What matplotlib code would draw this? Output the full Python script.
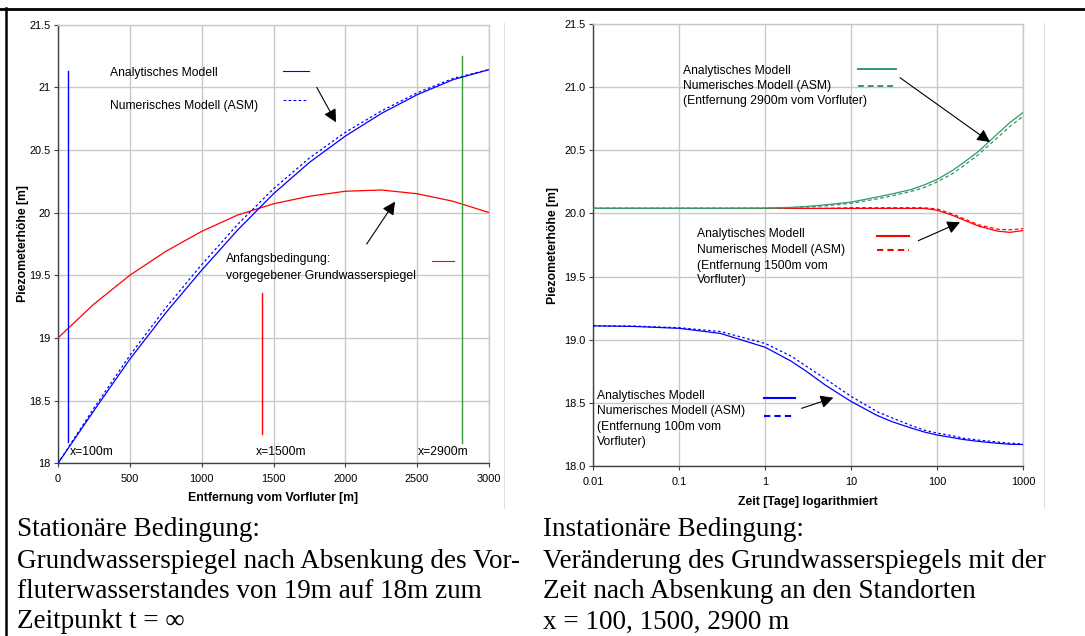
import matplotlib
matplotlib.use('Agg')
import matplotlib.pyplot as plt
from matplotlib.lines import Line2D
from matplotlib.patches import FancyArrowPatch
from matplotlib.ticker import NullLocator

# ---------------- data ----------------
# left chart: steady state (distance from river [m])
x_dist = [0, 250, 500, 750, 1000, 1250, 1500, 1750, 2000, 2250, 2500, 2750, 3000]
h_stat_analyt = [18.0, 18.42, 18.83, 19.2, 19.54, 19.86, 20.15, 20.40, 20.61, 20.79, 20.94, 21.06, 21.14]
h_stat_num = [18.0, 18.44, 18.86, 19.24, 19.585, 19.905, 20.19, 20.435, 20.64, 20.81, 20.955, 21.07, 21.14]
h_initial = [19.0, 19.27, 19.5, 19.69, 19.85, 19.98, 20.07, 20.13, 20.17, 20.18, 20.15, 20.09, 20.0]
marker_x = [67, 1418, 2815]
marker_ybot = [18.17, 18.23, 18.165]
marker_ytop = [21.13, 19.36, 21.25]
marker_labels = ['x=100m', 'x=1500m', 'x=2900m']

# right chart: transient (time [days])
t_days = [0.01, 0.03, 0.1, 0.3, 1, 2, 3, 5, 10, 20, 30, 50, 70, 100, 150, 200, 300, 500, 700, 1000]
h100_analyt = [19.11, 19.105, 19.09, 19.05, 18.94, 18.83, 18.75, 18.64, 18.51, 18.40, 18.35, 18.30,
               18.27, 18.245, 18.225, 18.21, 18.195, 18.18, 18.172, 18.17]
h100_num = [19.11, 19.108, 19.095, 19.065, 18.97, 18.87, 18.79, 18.69, 18.55, 18.43, 18.38, 18.32,
            18.285, 18.26, 18.24, 18.22, 18.205, 18.19, 18.18, 18.175]
h1500_analyt = [20.04, 20.04, 20.04, 20.04, 20.04, 20.04, 20.04, 20.04, 20.04, 20.04, 20.04, 20.04,
                20.04, 20.025, 19.985, 19.95, 19.90, 19.86, 19.85, 19.865]
h1500_num = [20.04, 20.04, 20.04, 20.04, 20.04, 20.04, 20.04, 20.04, 20.045, 20.045, 20.045, 20.045,
             20.045, 20.035, 19.995, 19.96, 19.91, 19.875, 19.87, 19.88]
h2900_analyt = [20.04, 20.04, 20.04, 20.04, 20.042, 20.048, 20.055, 20.068, 20.09, 20.13, 20.155, 20.19,
                20.225, 20.27, 20.34, 20.40, 20.49, 20.63, 20.72, 20.80]
h2900_num = [20.04, 20.04, 20.04, 20.04, 20.04, 20.045, 20.05, 20.06, 20.08, 20.115, 20.14, 20.175,
             20.205, 20.25, 20.315, 20.375, 20.465, 20.60, 20.69, 20.77]

left_xticks = [0, 500, 1000, 1500, 2000, 2500, 3000]
y_ticks = [18, 18.5, 19, 19.5, 20, 20.5, 21, 21.5]
right_xticks = [0.01, 0.1, 1, 10, 100, 1000]
right_xticklabels = ['0.01', '0.1', '1', '10', '100', '1000']

BLUE = '#0000ff'
RED = '#ff0000'
GREEN_L = '#3a9a3a'
GREEN = '#339966'
GRID = '#c8c8c8'

plt.rcParams['font.family'] = ['Liberation Sans', 'DejaVu Sans']

W, H = 1085, 636
fig = plt.figure(figsize=(W / 100, H / 100), dpi=100)
fig.patch.set_facecolor('white')


def fx(x):
    return x / W


def fy(y):
    return 1 - y / H


def add_axes(x0, y0, x1, y1):
    return fig.add_axes([fx(x0), fy(y1), (x1 - x0) / W, (y1 - y0) / H])


axL = add_axes(58, 24.5, 489, 463.3)
axR = add_axes(593.3, 24, 1023.3, 466)

for ax in (axL, axR):
    ax.set_facecolor('white')
    ax.grid(True, color=GRID, lw=1.0)
    ax.set_axisbelow(True)
    for s in ['top', 'right']:
        ax.spines[s].set_color(GRID)
        ax.spines[s].set_linewidth(1.0)
    for s in ['left', 'bottom']:
        ax.spines[s].set_color('#404040')
        ax.spines[s].set_linewidth(1.0)
    ax.tick_params(direction='out', length=3, width=0.8, color='#404040',
                   labelsize=7.9, pad=2.5, labelcolor='black')
    ax.tick_params(axis='x', pad=5)
    ax.set_ylim(18, 21.5)
    ax.set_yticks(y_ticks)

# ---- left chart ----
axL.set_xlim(0, 3000)
axL.set_xticks(left_xticks)
axL.set_yticklabels(['%g' % v for v in y_ticks])
axL.plot(x_dist, h_initial, color=RED, lw=0.9, zorder=3)
axL.plot(x_dist, h_stat_num, color=BLUE, lw=0.9, ls=(0, (2, 2)), zorder=3)
axL.plot(x_dist, h_stat_analyt, color=BLUE, lw=0.9, zorder=4)
for xm, yb, yt, c in zip(marker_x, marker_ybot, marker_ytop, [BLUE, RED, GREEN_L]):
    axL.plot([xm, xm], [yb, yt], color=c, lw=1.0, zorder=3)

# ---- right chart ----
axR.set_xscale('log')
axR.set_xlim(0.01, 1000)
axR.set_xticks(right_xticks)
axR.set_xticklabels(right_xticklabels)
axR.xaxis.set_minor_locator(NullLocator())
axR.set_yticklabels(['%.1f' % v for v in y_ticks])
axR.plot(t_days, h1500_num, color=RED, lw=0.9, ls=(0, (3, 2)), zorder=3)
axR.plot(t_days, h1500_analyt, color=RED, lw=0.9, zorder=3)
axR.plot(t_days, h2900_num, color=GREEN, lw=0.9, ls=(0, (3, 2)), zorder=4)
axR.plot(t_days, h2900_analyt, color=GREEN, lw=0.9, zorder=4)
axR.plot(t_days, h100_num, color=BLUE, lw=0.9, ls=(0, (2, 2)), zorder=3)
axR.plot(t_days, h100_analyt, color=BLUE, lw=0.9, zorder=3)


# ---- helpers for annotations ----
def text(x, y, s, size=8.7, **kw):
    kw.setdefault('ha', 'left')
    kw.setdefault('va', 'center')
    return fig.text(fx(x), fy(y), s, fontsize=size, **kw)


def seg(x0, x1, y, color, lw, ls='-'):
    fig.add_artist(Line2D([fx(x0), fx(x1)], [fy(y), fy(y)], transform=fig.transFigure,
                          color=color, lw=lw, ls=ls))


def arrow(x0, y0, x1, y1):
    fig.add_artist(FancyArrowPatch((fx(x0), fy(y0)), (fx(x1), fy(y1)), transform=fig.transFigure,
                                   arrowstyle='-|>,head_length=0.55,head_width=0.28',
                                   mutation_scale=14, color='black', lw=0.8,
                                   shrinkA=0, shrinkB=0))


# axis labels
text(273.5, 498.3, 'Entfernung vom Vorfluter [m]', size=8.8, weight='bold', ha='center')
text(808.3, 501.7, 'Zeit [Tage] logarithmiert', size=8.8, weight='bold', ha='center')
text(23, 244, 'Piezometerhöhe [m]', size=8.8, weight='bold', ha='center', rotation=90)
text(553, 245, 'Piezometerhöhe [m]', size=8.8, weight='bold', ha='center', rotation=90)

# left chart annotations
text(110, 72.7, 'Analytisches Modell')
text(110, 105.7, 'Numerisches Modell (ASM)')
seg(283, 309, 70.7, BLUE, 0.8)
seg(283, 307, 100, BLUE, 0.8, (0, (2.5, 2)))
arrow(316.7, 87.3, 336, 122.3)
text(225.7, 259.3, 'Anfangsbedingung:')
text(225.7, 275.7, 'vorgegebener Grundwasserspiegel')
seg(432, 454, 261, RED, 0.8)
arrow(366.7, 244, 395, 201.7)
for lab, xl in zip(marker_labels, [70, 256, 418]):
    text(xl, 451.7, lab)

# right chart annotations
text(683.3, 70.7, 'Analytisches Modell')
text(683.3, 86, 'Numerisches Modell (ASM)')
text(683.3, 100.7, '(Entfernung 2900m vom Vorfluter)')
seg(857.7, 896, 69.3, GREEN, 1.4)
seg(857.7, 896, 86, GREEN, 1.4, (0, (3, 2)))
arrow(900, 77.7, 990, 142)

text(696.7, 234.3, 'Analytisches Modell')
text(696.7, 250, 'Numerisches Modell (ASM)')
text(696.7, 265.5, '(Entfernung 1500m vom')
text(696.7, 280.5, 'Vorfluter)')
seg(876.7, 909, 235.7, RED, 1.5)
seg(876.7, 909, 250, RED, 1.5, (0, (3, 2)))
arrow(918.3, 240.7, 960, 222.3)

text(597.3, 395.7, 'Analytisches Modell')
text(597.3, 411, 'Numerisches Modell (ASM)')
text(597.3, 426.7, '(Entfernung 100m vom')
text(597.3, 441.5, 'Vorfluter)')
seg(764.3, 795, 397.7, BLUE, 1.5)
seg(764.3, 795, 416, BLUE, 1.5, (0, (3, 2)))
arrow(801.7, 408.3, 833.3, 397.7)

# frame lines
fig.add_artist(Line2D([0, 1], [fy(8.7), fy(8.7)], transform=fig.transFigure, color='black', lw=2.0))
fig.add_artist(Line2D([fx(6.2), fx(6.2)], [0, fy(7.5)], transform=fig.transFigure, color='black', lw=1.8))
for xb in (504, 1044):
    fig.add_artist(Line2D([fx(xb), fx(xb)], [fy(508), fy(23)], transform=fig.transFigure,
                          color='#dddddd', lw=0.7))

# captions (Times-like serif), size fitted to measured line width
renderer = fig.canvas.get_renderer()
probe = fig.text(0, 0, 'Grundwasserspiegel nach Absenkung des Vor-', fontsize=10,
                 family=['Liberation Serif', 'DejaVu Serif'])
wpx = probe.get_window_extent(renderer).width
probe.remove()
cap_size = 10 * 504 / wpx

left_caption = ['Stationäre Bedingung:',
                'Grundwasserspiegel nach Absenkung des Vor-',
                'fluterwasserstandes von 19m auf 18m zum',
                'Zeitpunkt t = ∞']
right_caption = ['Instationäre Bedingung:',
                 'Veränderung des Grundwasserspiegels mit der',
                 'Zeit nach Absenkung an den Standorten',
                 'x = 100, 1500, 2900 m']
cap_y = [530, 561, 592, 622]
for s, y in zip(left_caption, cap_y):
    text(17, y, s, size=cap_size, family=['Liberation Serif', 'DejaVu Serif'])
for s, y in zip(right_caption, cap_y):
    text(543, y, s, size=cap_size, family=['Liberation Serif', 'DejaVu Serif'])

fig.savefig('out.png', dpi=100, facecolor='white')
